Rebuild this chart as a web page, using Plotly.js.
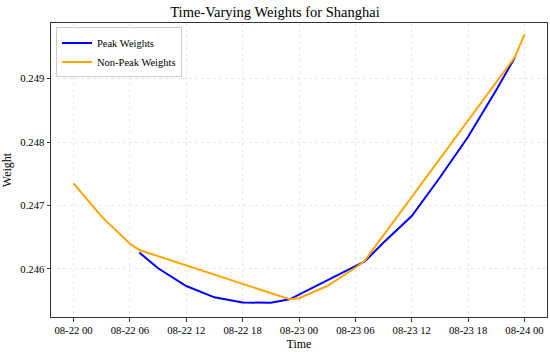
<!DOCTYPE html>
<html>
<head>
<meta charset="utf-8">
<script src="https://cdn.plot.ly/plotly-3.0.1.min.js"></script>
<style>html,body{margin:0;padding:0;background:#fff;}#chart{width:550px;height:352px;}</style>
</head>
<body>
<div id="chart"></div>
<script>
const peakTimes = [
  "2024-08-22 07:00", "2024-08-22 09:00", "2024-08-22 12:00", "2024-08-22 15:00",
  "2024-08-22 18:00", "2024-08-22 21:00", "2024-08-22 23:00",
  "2024-08-23 07:00", "2024-08-23 09:00", "2024-08-23 12:00", "2024-08-23 15:00",
  "2024-08-23 18:00", "2024-08-23 21:00", "2024-08-23 23:00"
];
const peakWeights = [
  0.246260, 0.246011, 0.245732, 0.245554,
  0.245472, 0.245468, 0.245523,
  0.246118, 0.246417, 0.246835, 0.247441,
  0.248083, 0.248819, 0.249334
];
const nonPeakTimes = [
  "2024-08-22 00:00", "2024-08-22 03:00", "2024-08-22 06:00", "2024-08-22 07:00",
  "2024-08-22 23:00", "2024-08-23 00:00", "2024-08-23 03:00", "2024-08-23 06:00",
  "2024-08-23 07:00", "2024-08-23 23:00", "2024-08-24 00:00"
];
const nonPeakWeights = [
  0.247350, 0.246824, 0.246400, 0.246299,
  0.245523, 0.245539, 0.245732, 0.246020,
  0.246131, 0.249343, 0.249696
];
const yTicks = [0.246, 0.247, 0.248, 0.249];

const serif = "Liberation Serif, Times New Roman, serif";

const traces = [
  {x: peakTimes, y: peakWeights, type: "scatter", mode: "lines", name: "Peak Weights",
   line: {color: "#0000FF", width: 2}},
  {x: nonPeakTimes, y: nonPeakWeights, type: "scatter", mode: "lines", name: "Non-Peak Weights",
   line: {color: "#FFA500", width: 2}}
];

const layout = {
  width: 550, height: 352,
  margin: {l: 51, r: 3, t: 23, b: 35},
  paper_bgcolor: "#fff", plot_bgcolor: "#fff",
  font: {family: serif, size: 11, color: "#000"},
  title: {text: "Time-Varying Weights for Shanghai", font: {family: serif, size: 14.5, color: "#000"},
          x: 0.5, xanchor: "center", y: 0.965, yanchor: "middle"},
  showlegend: true,
  legend: {x: 0.01, y: 0.985, xanchor: "left", yanchor: "top",
           bgcolor: "rgba(255,255,255,0.8)", bordercolor: "#cccccc", borderwidth: 1,
           font: {family: serif, size: 10.5, color: "#000"}, tracegroupgap: 0,
           itemwidth: 30},
  xaxis: {
    type: "date",
    range: ["2024-08-21 21:36", "2024-08-24 02:24"],
    tick0: "2024-08-22 00:00", dtick: 21600000, tickformat: "%m-%d %H",
    showgrid: true, gridcolor: "#e3e3e3", griddash: "3px,3px", gridwidth: 0.8,
    showline: true, linecolor: "#333", linewidth: 1, mirror: true,
    ticks: "outside", ticklen: 3.5, tickcolor: "#333",
    zeroline: false,
    tickfont: {family: serif, size: 10.7, color: "#000"},
    title: {text: "Time", font: {family: serif, size: 12, color: "#000"}, standoff: 4}
  },
  yaxis: {
    range: [0.245244, 0.249874],
    tickvals: yTicks, tickformat: ".3f",
    showgrid: true, gridcolor: "#e3e3e3", griddash: "3px,3px", gridwidth: 0.8,
    showline: true, linecolor: "#333", linewidth: 1, mirror: true,
    ticks: "outside", ticklen: 3.5, tickcolor: "#333",
    zeroline: false,
    tickfont: {family: serif, size: 10.7, color: "#000"},
    title: {text: "Weight", font: {family: serif, size: 12, color: "#000"}, standoff: 6}
  }
};

Plotly.newPlot("chart", traces, layout, {displayModeBar: false, staticPlot: true});
</script>
</body>
</html>
